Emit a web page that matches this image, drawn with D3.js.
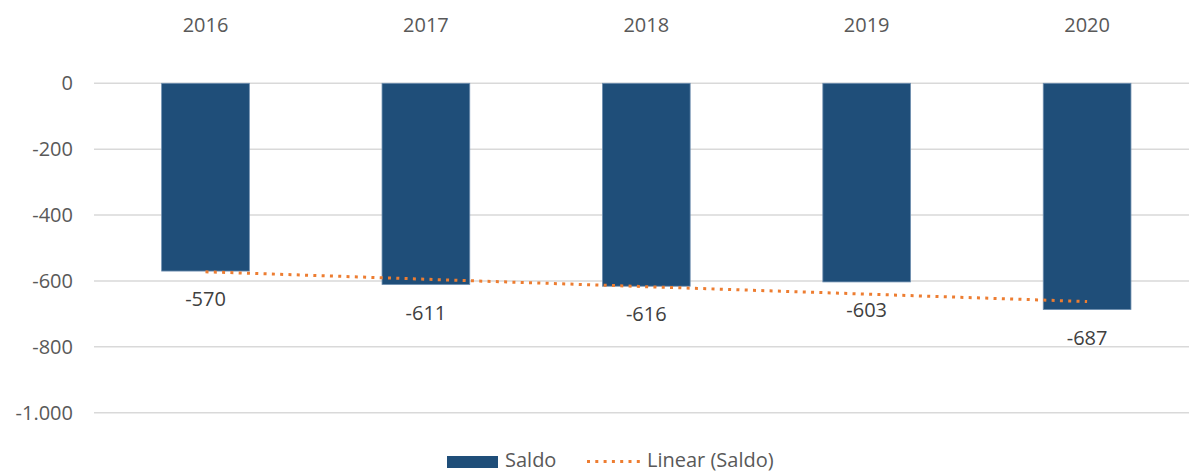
<!DOCTYPE html>
<meta charset="utf-8">
<style>
body { margin: 0; background: #fff; }
svg { display: block; font-family: "Open Sans", sans-serif; }
.grid line { stroke: #d9d9d9; stroke-width: 1.5; }
.tick-label, .cat-label, .val-label, .legend text { fill: #595959; font-size: 20px; }
.val-label { fill: #404040; }
.trend { fill: none; stroke: #ed7d31; stroke-width: 3; stroke-dasharray: 3 5.3; }
</style>
<body>
<svg></svg>
<script src="https://d3js.org/d3.v7.min.js"></script>
<script>
// data
const years = ["2016", "2017", "2018", "2019", "2020"];
const saldo = [-570, -611, -616, -603, -687];
const yTicks = [0, -200, -400, -600, -800, -1000];

const width = 1189, height = 473;

const svg = d3.select("svg")
    .attr("width", width)
    .attr("height", height);

const x = d3.scaleBand()
    .domain(years)
    .range([95.3, 1197.3])
    .padding(0);

const y = d3.scaleLinear()
    .domain([-1000, 0])
    .range([412.7, 83.3]);

const barW = x.bandwidth() * 0.398;
const cx = d => x(d) + x.bandwidth() / 2;

// hyphen minus and dot as thousands separator, like the original
const fmt = d3.formatLocale({ decimal: ",", thousands: ".", grouping: [3], currency: ["", ""], minus: "-" }).format(",");

// gridlines
svg.append("g").attr("class", "grid")
  .selectAll("line")
  .data(yTicks)
  .join("line")
    .attr("x1", 94)
    .attr("x2", 1197)
    .attr("y1", d => y(d))
    .attr("y2", d => y(d));

// y tick labels
svg.append("g")
  .selectAll("text")
  .data(yTicks)
  .join("text")
    .attr("class", "tick-label")
    .attr("x", 73)
    .attr("y", d => y(d))
    .attr("dy", "0.35em")
    .attr("text-anchor", "end")
    .text(fmt);

// category labels on top
svg.append("g")
  .selectAll("text")
  .data(years)
  .join("text")
    .attr("class", "cat-label")
    .attr("x", cx)
    .attr("y", 32)
    .attr("text-anchor", "middle")
    .text(d => d);

const data = years.map((yr, i) => ({ year: yr, value: saldo[i] }));

// bars
svg.append("g")
  .selectAll("rect")
  .data(data)
  .join("rect")
    .attr("x", d => cx(d.year) - barW / 2)
    .attr("y", y(0))
    .attr("width", barW)
    .attr("height", d => y(d.value) - y(0))
    .attr("fill", "#1f4e79")
    .attr("stroke", "#6f8fb0")
    .attr("stroke-width", 0.8);

// value labels below the bars
svg.append("g")
  .selectAll("text")
  .data(data)
  .join("text")
    .attr("class", "val-label")
    .attr("x", d => cx(d.year))
    .attr("y", d => y(d.value) + 35)
    .attr("text-anchor", "middle")
    .text(d => fmt(d.value));

// linear trend (least squares on the series)
const n = saldo.length;
const xs = d3.range(1, n + 1);
const mx = d3.mean(xs), my = d3.mean(saldo);
const slope = d3.sum(xs, (v, i) => (v - mx) * (saldo[i] - my)) / d3.sum(xs, v => (v - mx) ** 2);
const icpt = my - slope * mx;

svg.append("path")
    .datum(data)
    .attr("class", "trend")
    .attr("d", d3.line()
      .x(d => cx(d.year))
      .y((d, i) => y(icpt + slope * (i + 1))));

// legend
const lg = svg.append("g").attr("class", "legend");
lg.append("rect")
    .attr("x", 447).attr("y", 456)
    .attr("width", 51).attr("height", 12)
    .attr("fill", "#1f4e79");
lg.append("text").attr("x", 505).attr("y", 467).text("Saldo");
lg.append("line")
    .attr("class", "trend")
    .attr("x1", 587).attr("x2", 640)
    .attr("y1", 461.5).attr("y2", 461.5);
lg.append("text").attr("x", 647).attr("y", 467).text("Linear (Saldo)");
</script>
</body>
